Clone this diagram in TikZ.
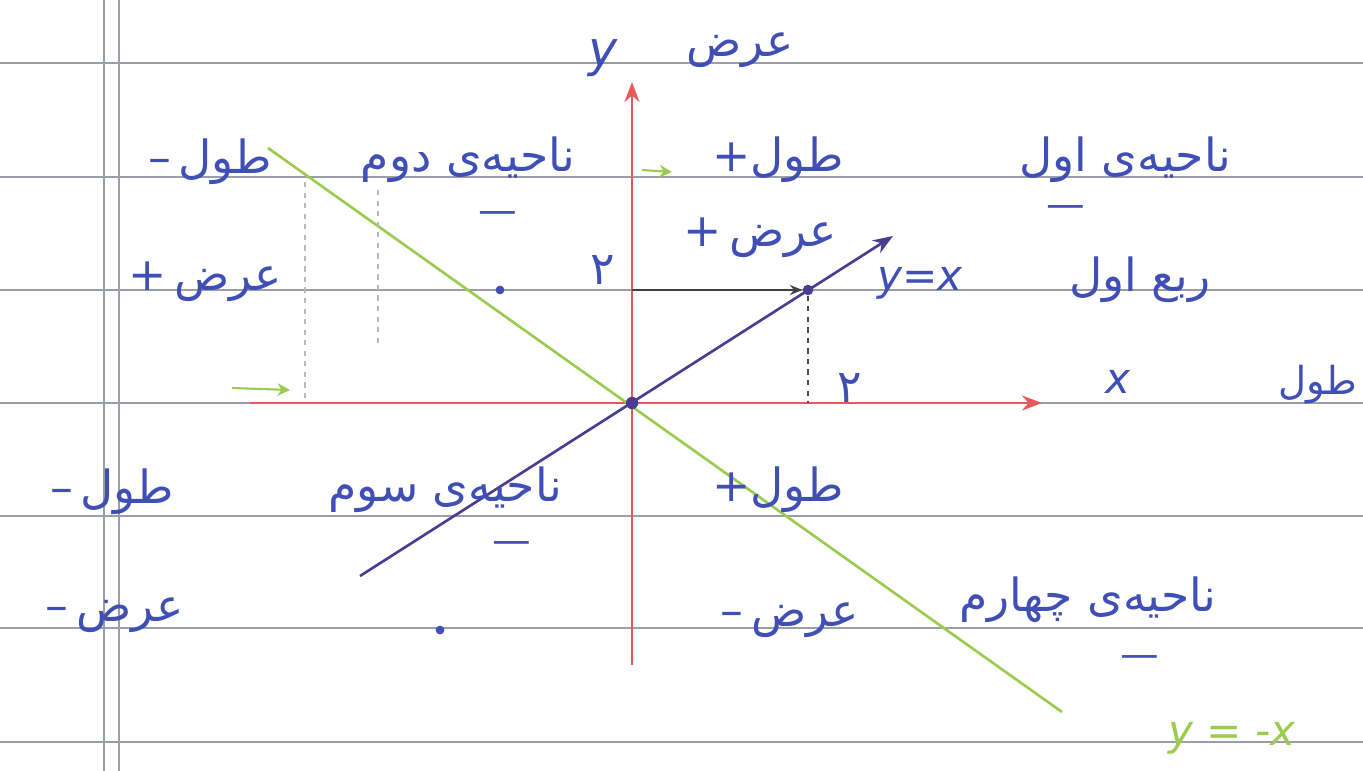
\documentclass[tikz,border=0pt]{standalone}
\usepackage{fontspec}
\setmainfont{DejaVu Sans}
\newfontfamily\arabicfont[Script=Arabic]{DejaVu Sans}
\TeXXeTstate=1
\usetikzlibrary{arrows.meta}
\definecolor{inkblue}{HTML}{3F4FB5}
\definecolor{axisred}{HTML}{E8575A}
\definecolor{lineviolet}{HTML}{4B3C92}
\definecolor{linegreen}{HTML}{9ACB4E}
\definecolor{rulegray}{HTML}{9A9EA6}
\newcommand{\fa}[1]{{\arabicfont\beginR #1\endR}}
\tikzset{
  >={Stealth[length=4mm,width=3mm]},
  ink/.style={text=inkblue, font=\fontsize{26}{30}\selectfont, inner sep=1pt},
  sign/.style={text=inkblue, font=\fontsize{22}{26}\selectfont, inner sep=1pt},
  axis/.style={draw=axisred, line width=1.6pt, ->},
  ruling/.style={draw=rulegray, line width=0.9pt},
  guide/.style={draw=gray!55, dashed, line width=0.9pt},
  dotmark/.style={circle, fill=inkblue, inner sep=0pt, minimum size=5pt}
}
\begin{document}
\begin{tikzpicture}[x=0.02cm,y=-0.02cm]
  \path[use as bounding box] (0,0) rectangle (1363,771);

  % notebook paper
  \foreach \ry in {63,177,290,403,516,628,742}
    \draw[ruling] (0,\ry) -- (1363,\ry);
  \draw[ruling] (104,0) -- (104,771);
  \draw[ruling] (119,0) -- (119,771);

  % axes
  \coordinate (O) at (632,403);
  \coordinate (xstart) at (250,403);
  \coordinate (xend) at (1042,403);
  \coordinate (ybot) at (632,665);
  \coordinate (ytop) at (632,82);
  \draw[axis] (xstart) -- (xend);
  \draw[axis] (ybot) -- (ytop);

  % the two lines
  \coordinate (bisA) at (360,576);
  \coordinate (bisB) at (893,236);
  \coordinate (antiA) at (268,148);
  \coordinate (antiB) at (1062,712);
  \draw[draw=lineviolet, line width=1.5pt, ->] (bisA) -- (bisB);
  \draw[draw=linegreen, line width=1.5pt] (antiA) -- (antiB);
  \node[circle, fill=lineviolet, inner sep=0pt, minimum size=7pt] (origin) at (O) {};

  % point on y=x
  \node[circle, fill=lineviolet, inner sep=0pt, minimum size=6pt] (P) at (808,290) {};
  \coordinate (Px) at (808,403);
  \coordinate (Py) at (632,290);
  \draw[guide, draw=black!70] (P) -- (Px);
  \draw[draw=black!75, line width=0.9pt, -{Stealth[length=2.5mm,width=2mm]}] (Py) -- (P);

  % faint guides in the second quadrant
  \coordinate (g1a) at (305,182);
  \coordinate (g1b) at (305,400);
  \coordinate (g2a) at (378,190);
  \coordinate (g2b) at (378,345);
  \draw[guide] (g1a) -- (g1b);
  \draw[guide] (g2a) -- (g2b);
  \coordinate (h1a) at (232,388);
  \coordinate (h1b) at (290,390);
  \draw[draw=linegreen, line width=1.2pt, -{Stealth[length=2.5mm,width=2.5mm]}] (h1a) -- (h1b);
  \coordinate (h2a) at (642,170);
  \coordinate (h2b) at (672,172);
  \draw[draw=linegreen, line width=1.2pt, -{Stealth[length=2.5mm,width=2.5mm]}] (h2a) -- (h2b);

  % axis labels
  \node[ink, font=\itshape\fontsize{28}{32}\selectfont] (ylab) at (603,58) {y};
  \node[ink] (arztop) at (740,50) {\fa{عرض}};
  \node[ink, font=\itshape\fontsize{24}{28}\selectfont] (xlab) at (1118,382) {x};
  \node[ink, font=\fontsize{22}{26}\selectfont] (tooltag) at (1318,385) {\fa{طول}};
  \node[ink] (twoy) at (603,270) {\fa{۲}};
  \node[ink] (twox) at (850,388) {\fa{۲}};

  % first quadrant
  \node[ink] (q1) at (1125,160) {\fa{ناحیه‌ی اول}};
  \node[ink] (q1x) at (778,160) {+\fa{طول}};
  \node[ink] (q1y) at (760,238) {+\,\fa{عرض}};
  \node[sign] (q1m) at (1066,212) {—};
  \node[ink] (rob) at (1140,280) {\fa{ربع اول}};
  \node[ink, font=\itshape\fontsize{24}{28}\selectfont] (yx) at (920,283) {y=x};

  % second quadrant
  \node[ink] (q2) at (468,160) {\fa{ناحیه‌ی دوم}};
  \node[ink] (q2x) at (210,162) {–\,\fa{طول}};
  \node[ink] (q2y) at (205,282) {+\,\fa{عرض}};
  \node[sign] (q2m) at (498,218) {—};
  \node[dotmark] (dot2) at (500,290) {};

  % third quadrant
  \node[ink] (q3) at (445,490) {\fa{ناحیه‌ی سوم}};
  \node[ink] (q3x) at (112,492) {–\,\fa{طول}};
  \node[ink] (q3y) at (115,615) {–\,\fa{عرض}};
  \node[sign] (q3m) at (512,548) {—};
  \node[dotmark] (dot3) at (440,630) {};

  % fourth quadrant
  \node[ink] (q4) at (1088,600) {\fa{ناحیه‌ی چهارم}};
  \node[ink] (q4x) at (778,490) {+\fa{طول}};
  \node[ink] (q4y) at (790,620) {–\,\fa{عرض}};
  \node[sign] (q4m) at (1140,662) {—};
  \node[ink, text=linegreen, font=\itshape\fontsize{24}{28}\selectfont] (ynx) at (1232,738) {y = -x};
\end{tikzpicture}
\end{document}
